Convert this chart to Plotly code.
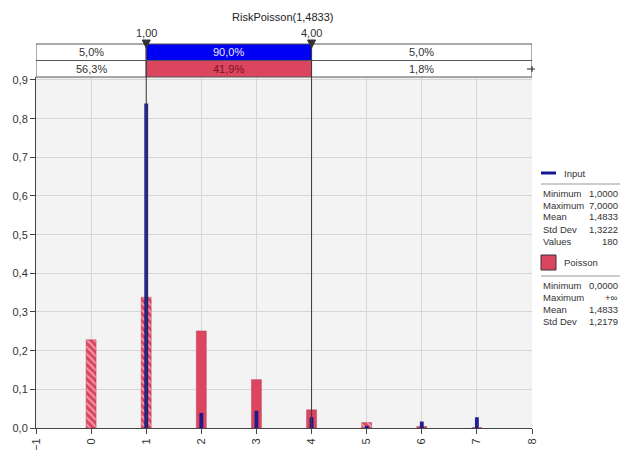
import plotly.graph_objects as go

# ---- data ----
values = [0, 1, 2, 3, 4, 5, 6, 7]
poisson_prob = [0.228, 0.338, 0.251, 0.125, 0.047, 0.014, 0.004, 0.001]
input_values = [1, 2, 3, 4, 5, 6, 7]
input_counts = [151, 7, 8, 5, 1, 3, 5]
n_samples = 180
input_freq = [c / n_samples for c in input_counts]

delimiters = [1.00, 4.00]
input_pct = [5.0, 90.0, 5.0]
poisson_pct = [56.3, 41.9, 1.8]

title_text = "RiskPoisson(1,4833)"
input_stats = [("Minimum", "1,0000"), ("Maximum", "7,0000"), ("Mean", "1,4833"),
               ("Std Dev", "1,3222"), ("Values", "180")]
poisson_stats = [("Minimum", "0,0000"), ("Maximum", "+\u221e"), ("Mean", "1,4833"),
                 ("Std Dev", "1,2179")]

# hatched bars lie outside the delimiters
hatch = ["\\", "\\", "", "", "", "\\", "\\", "\\"]

X_MIN, X_MAX = -1, 8
Y_MAX = 0.9077

W, H = 624, 450
ML, MR, MT, MB = 36, 92, 77, 22
PW, PH = W - ML - MR, H - MT - MB

RED = "#dc4560"
BLUE = "#0000f5"
NAVY = "#16168e"
FONT = "Liberation Sans"


def px(xpix):
    return (xpix - ML) / PW


def py(ypix):
    return (H - MB - ypix) / PH


def fmt(v):
    return f"{v:.1f}".replace(".", ",") + "%"


def label(x, y, text, xref="paper", xanchor="center", size=11, color="#333"):
    return dict(x=x, y=y, xref=xref, yref="paper", xanchor=xanchor, yanchor="middle",
                text=text, showarrow=False,
                font=dict(family=FONT, size=size, color=color))


fig = go.Figure()

fig.add_trace(go.Bar(
    x=values, y=poisson_prob, width=0.18, name="Poisson",
    marker=dict(color=RED, line=dict(color="#b83a52", width=0.5),
                pattern=dict(shape=hatch, fgcolor="white", bgcolor=RED,
                             size=5, solidity=0.35)),
    hoverinfo="x+y",
))
fig.add_trace(go.Bar(
    x=input_values, y=input_freq, width=0.07, name="Input",
    marker=dict(color=NAVY, line=dict(width=0), opacity=0.95),
    hoverinfo="x+y",
))

shapes = []
annotations = []

# delimiter bars above the plot
row_top, row_mid, row_bot = py(44), py(60.5), py(77)
edges = [X_MIN] + delimiters + [X_MAX]
for i in range(3):
    x0, x1 = edges[i], edges[i + 1]
    fill1 = BLUE if i == 1 else "white"
    fill2 = RED if i == 1 else "white"
    shapes.append(dict(type="rect", xref="x", yref="paper", x0=x0, x1=x1,
                       y0=row_mid, y1=row_top, fillcolor=fill1,
                       line=dict(color="#555", width=1), layer="above"))
    shapes.append(dict(type="rect", xref="x", yref="paper", x0=x0, x1=x1,
                       y0=row_bot, y1=row_mid, fillcolor=fill2,
                       line=dict(color="#555", width=1), layer="above"))
    annotations.append(label((x0 + x1) / 2, (row_top + row_mid) / 2, fmt(input_pct[i]),
                             xref="x", color="#e8e8f0" if i == 1 else "#333"))
    annotations.append(label((x0 + x1) / 2, (row_mid + row_bot) / 2, fmt(poisson_pct[i]),
                             xref="x", color="#7a1022" if i == 1 else "#333"))

for d in delimiters:
    shapes.append(dict(type="line", xref="x", yref="paper", x0=d, x1=d,
                       y0=0, y1=row_top, line=dict(color="#3a3a3a", width=1),
                       layer="above"))
    tw = 4 / PW * (X_MAX - X_MIN)
    shapes.append(dict(type="path", xref="x", yref="paper",
                       path=f"M {d - tw},{py(40)} L {d + tw},{py(40)} L {d},{py(48)} Z",
                       fillcolor="#333", line=dict(color="#333", width=1), layer="above"))
    annotations.append(label(d, py(33), f"{d:.2f}".replace(".", ","), xref="x"))

# small handle at the right end of the lower row
shapes.append(dict(type="line", xref="paper", yref="paper", x0=px(527), x1=px(535),
                   y0=py(69), y1=py(69), line=dict(color="#222", width=1)))
shapes.append(dict(type="line", xref="paper", yref="paper", x0=px(532), x1=px(532),
                   y0=py(66), y1=py(72), line=dict(color="#222", width=1)))

annotations.append(label(px(283), py(17), title_text, color="#222"))

# legend / statistics panel
LX0, LX1 = 541, 620
LS = 9.5
shapes.append(dict(type="line", xref="paper", yref="paper", x0=px(LX0), x1=px(556),
                   y0=py(173), y1=py(173), line=dict(color=NAVY, width=3)))
annotations.append(label(px(562), py(173), "Input", xanchor="left", size=LS))
shapes.append(dict(type="line", xref="paper", yref="paper", x0=px(LX0), x1=px(LX1),
                   y0=py(184), y1=py(184), line=dict(color="#999", width=1)))
for k, (lab, val) in enumerate(input_stats):
    yy = py(193 + 12 * k)
    annotations.append(label(px(LX0), yy, lab, xanchor="left", size=LS))
    annotations.append(label(px(LX1), yy, val, xanchor="right", size=LS))

shapes.append(dict(type="rect", xref="paper", yref="paper", x0=px(LX0), x1=px(556),
                   y0=py(270), y1=py(255), fillcolor=RED, line=dict(color="#333", width=1)))
annotations.append(label(px(562), py(262), "Poisson", xanchor="left", size=LS))
shapes.append(dict(type="line", xref="paper", yref="paper", x0=px(LX0), x1=px(LX1),
                   y0=py(276), y1=py(276), line=dict(color="#999", width=1)))
for k, (lab, val) in enumerate(poisson_stats):
    yy = py(285 + 12 * k)
    annotations.append(label(px(LX0), yy, lab, xanchor="left", size=LS))
    annotations.append(label(px(LX1), yy, val, xanchor="right", size=LS))

fig.update_layout(
    width=W, height=H,
    margin=dict(l=ML, r=MR, t=MT, b=MB, autoexpand=False),
    paper_bgcolor="white", plot_bgcolor="#f3f3f3",
    barmode="overlay", showlegend=False, separators=",.",
    font=dict(family=FONT, size=11, color="#333"),
    shapes=shapes, annotations=annotations,
    xaxis=dict(range=[X_MIN, X_MAX], tickmode="linear", tick0=-1, dtick=1,
               tickangle=-90, showgrid=True, gridcolor="#d6d6d6", gridwidth=1,
               showline=True, linecolor="#444", linewidth=1, ticks="outside",
               ticklen=5, tickcolor="#444", zeroline=False, automargin=False,
               tickfont=dict(family=FONT, size=11, color="#333")),
    yaxis=dict(range=[0, Y_MAX], tickmode="linear", tick0=0, dtick=0.1,
               tickformat=".1f", showgrid=True, gridcolor="#d6d6d6", gridwidth=1,
               showline=True, linecolor="#444", linewidth=1, ticks="outside",
               ticklen=5, tickcolor="#444", zeroline=False, automargin=False,
               tickfont=dict(family=FONT, size=11, color="#333")),
)

fig.write_html("out.html")
